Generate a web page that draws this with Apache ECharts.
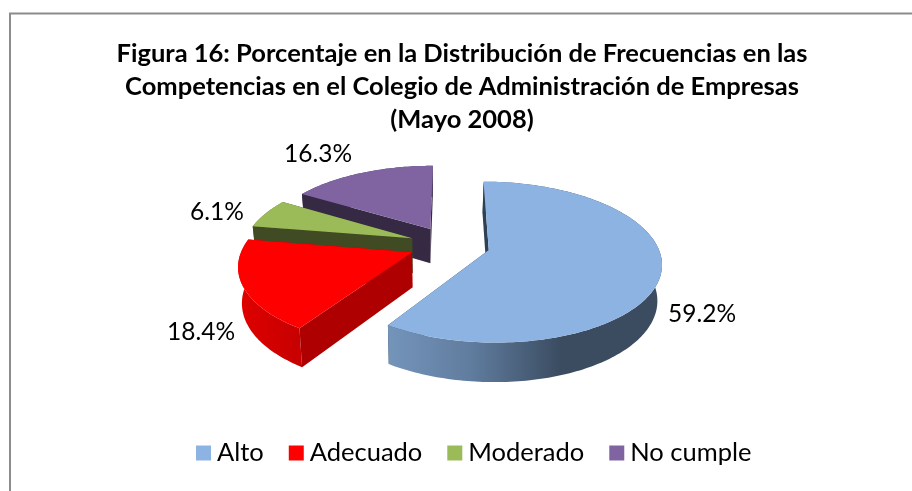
<!DOCTYPE html>
<html><head><meta charset="utf-8">
<style>html,body{margin:0;padding:0;background:#fff}#c{width:912px;height:491px}</style>
<script src="https://cdn.jsdelivr.net/npm/echarts@6/dist/echarts.min.js"></script>
</head><body><div id="c"></div>
<script>
var titleLines = ['Figura 16: Porcentaje en la Distribución de Frecuencias en las','Competencias en el Colegio de Administración de Empresas','(Mayo 2008)'];
var categories = ['Alto','Adecuado','Moderado','No cumple'];
var percentages = [59.2,18.4,6.1,16.3];
var topColors = ['#8DB3E2','#FF0000','#9BBB59','#8064A2'];
var faceColors = ['#2F4054','#AE0000','#404A23','#352944'];
var wallStops = [
  [[0,'#7594BA'],[0.3,'#607D9F'],[0.63,'#3B4C61'],[1,'#3B4C61']],
  [[0,'#E00000'],[1,'#C60000']],
  [[0,'#5F7530'],[1,'#5F7530']],
  [[0,'#4D3C62'],[1,'#4D3C62']]
];
// layout of the projected pie
var cx=449.6, cy=244.6, rx=168.5, ry=77, persp=0.15, explode=0.24, depth=35, vanishX=430, vanishK=0.02;
var labelPos = [[702,314],[201,332],[217,212],[318,154]];
var font = 'Lato';

function project(X,Y,down){
  var f=1/(1-persp*Y);
  var x=cx+X*rx*f, y=cy+Y*ry*f;
  if(down){ y+=depth*Math.pow(f,0.7); x+=(vanishX-x)*vanishK; }
  return [x,y];
}
function renderSlice(index){
  return function(params,api){
    var total=percentages.reduce(function(a,b){return a+b},0);
    var before=percentages.slice(0,index).reduce(function(a,b){return a+b},0);
    var a0=before/total*2*Math.PI, a1=(before+api.value(0))/total*2*Math.PI, mid=(a0+a1)/2;
    var ox=Math.sin(mid)*explode, oy=-Math.cos(mid)*explode;
    var n=Math.max(8,Math.ceil((a1-a0)/0.02));
    var upper=[],lower=[];
    for(var i=0;i<=n;i++){
      var a=a0+(a1-a0)*i/n, X=ox+Math.sin(a), Y=oy-Math.cos(a);
      upper.push(project(X,Y,false)); lower.push(project(X,Y,true));
    }
    var apexU=project(ox,oy,false), apexD=project(ox,oy,true);
    var face=function(j){return {type:'polygon',shape:{points:[apexU,upper[j],lower[j],apexD]},style:{fill:faceColors[index]}}};
    var wall={type:'polygon',shape:{points:upper.concat(lower.slice().reverse())},
      style:{fill:new echarts.graphic.LinearGradient(0,0,1,0,wallStops[index].map(function(s){return {offset:s[0],color:s[1]}}))}};
    var top={type:'polygon',shape:{points:[apexU].concat(upper)},style:{fill:topColors[index]}};
    var label={type:'text',style:{x:labelPos[index][0],y:labelPos[index][1],text:api.value(0).toFixed(1)+'%',
      font:'24.5px '+font,fill:'#000',textAlign:'center',textVerticalAlign:'middle'}};
    return {type:'group',children:[face(n),wall,face(0),top,label]};
  };
}
var chart=echarts.init(document.getElementById('c'),null,{renderer:'canvas'});
chart.setOption({
  animation:false,
  backgroundColor:'#fff',
  title:{text:titleLines.join('\n'),left:457,top:32,textAlign:'center',
    textStyle:{fontFamily:font,fontWeight:'bold',fontSize:25.5,lineHeight:33,color:'#000'}},
  legend:{data:categories,left:191,top:435,icon:'rect',itemWidth:15,itemHeight:15,itemGap:25,
    textStyle:{fontFamily:font,fontSize:25.5,color:'#000',padding:[0,0,0,1]},selectedMode:false},
  graphic:[{type:'rect',shape:{x:10,y:13.5,width:1000,height:1000},style:{fill:'none',stroke:'#8C8C8C',lineWidth:2},z:-1}],
  series:categories.map(function(name,i){
    return {type:'custom',name:name,coordinateSystem:'none',z:10-i,silent:true,
      itemStyle:{color:topColors[i]},renderItem:renderSlice(i),data:[[percentages[i]]]};
  })
});
</script></body></html>
